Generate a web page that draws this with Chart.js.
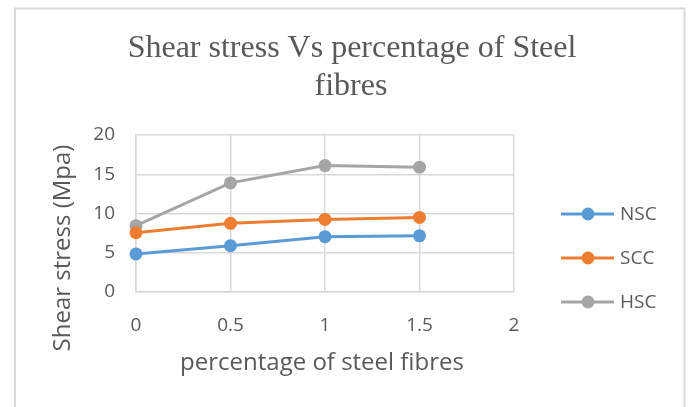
<!DOCTYPE html>
<html>
<head>
<meta charset="utf-8">
<script src="https://cdn.jsdelivr.net/npm/chart.js@4.4.1/dist/chart.umd.min.js"></script>
<style>
  html, body { margin: 0; padding: 0; background: #fff; }
  #wrap { position: relative; width: 688px; height: 407px; }
</style>
</head>
<body>
<div id="wrap"><canvas id="chart" width="688" height="407"></canvas></div>
<script>
// данные графика
var fibrePercent = [0, 0.5, 1, 1.5];
var nscStress = [4.85, 5.9, 7.05, 7.15];
var sccStress = [7.55, 8.75, 9.25, 9.5];
var hscStress = [8.45, 13.9, 16.1, 15.9];
var seriesNames = ['NSC', 'SCC', 'HSC'];
var seriesColors = ['#5B9BD5', '#ED7D31', '#A5A5A5'];
var titleLines = ['Shear stress Vs percentage of Steel', 'fibres'];
var xTitle = 'percentage of steel fibres';
var yTitle = 'Shear stress (Mpa)';

var TEXT = '#595959';
var GRID = '#d9d9d9';
var SANS = '"Open Sans", "Noto Sans", sans-serif';

function toPoints(ys) {
    return fibrePercent.map(function(x, i) { return { x: x, y: ys[i] }; });
}

function makeDataset(label, ys, color) {
    return {
        label: label,
        data: toPoints(ys),
        borderColor: color,
        backgroundColor: color,
        borderWidth: 3,
        pointRadius: 6.5,
        pointHoverRadius: 6.5,
        pointBorderWidth: 0,
        tension: 0,
        fill: false,
        clip: false
    };
}

// рамка, заголовок, подписи осей и легенда
var decorPlugin = {
    id: 'decor',
    beforeDraw: function(chart) {
        var ctx = chart.ctx;
        ctx.save();
        ctx.fillStyle = '#fff';
        ctx.fillRect(0, 0, chart.width, chart.height);
        ctx.strokeStyle = GRID;
        ctx.lineWidth = 2;
        ctx.strokeRect(15, 8.5, 669.5, 500);
        ctx.restore();
    },
    afterDraw: function(chart) {
        var ctx = chart.ctx;
        ctx.save();
        ctx.fillStyle = TEXT;

        // заголовок
        ctx.font = '32px "Liberation Serif", "Times New Roman", serif';
        ctx.textAlign = 'center';
        ctx.textBaseline = 'alphabetic';
        ctx.fillText(titleLines[0], 352, 57);
        ctx.fillText(titleLines[1], 351, 95);

        // подписи осей
        ctx.font = '24px ' + SANS;
        ctx.textBaseline = 'middle';
        ctx.fillText(xTitle, 322, 363);
        ctx.save();
        ctx.translate(63, 248);
        ctx.rotate(-Math.PI / 2);
        ctx.fillText(yTitle, 0, 0);
        ctx.restore();

        // легенда
        ctx.font = '19px ' + SANS;
        ctx.textAlign = 'left';
        var rows = [214, 258, 302];
        chart.data.datasets.forEach(function(ds, i) {
            var y = rows[i];
            ctx.strokeStyle = ds.borderColor;
            ctx.lineWidth = 3;
            ctx.beginPath();
            ctx.moveTo(561, y);
            ctx.lineTo(614, y);
            ctx.stroke();
            ctx.fillStyle = ds.borderColor;
            ctx.beginPath();
            ctx.arc(588, y, 6.5, 0, Math.PI * 2);
            ctx.fill();
            ctx.fillStyle = TEXT;
            ctx.fillText(ds.label, 620, y + 1);
        });
        ctx.restore();
    }
};

var chart = new Chart(document.getElementById('chart').getContext('2d'), {
    type: 'line',
    data: {
        datasets: [
            makeDataset(seriesNames[0], nscStress, seriesColors[0]),
            makeDataset(seriesNames[1], sccStress, seriesColors[1]),
            makeDataset(seriesNames[2], hscStress, seriesColors[2])
        ]
    },
    options: {
        responsive: false,
        animation: false,
        devicePixelRatio: 1,
        layout: { padding: { left: 0, right: 174, top: 135, bottom: 0 } },
        plugins: {
            legend: { display: false },
            title: { display: false },
            tooltip: { enabled: false }
        },
        scales: {
            x: {
                type: 'linear',
                min: 0,
                max: 2,
                afterFit: function(s) { s.height = 115; },
                ticks: {
                    stepSize: 0.5,
                    padding: 22,
                    color: TEXT,
                    font: { family: SANS, size: 19 },
                    callback: function(v) { return String(v); }
                },
                grid: { color: GRID, lineWidth: 1.5, drawTicks: false },
                border: { color: GRID, width: 1.5 }
            },
            y: {
                min: 0,
                max: 20,
                afterFit: function(s) { s.width = 136; },
                ticks: {
                    stepSize: 5,
                    padding: 21,
                    color: TEXT,
                    font: { family: SANS, size: 19 }
                },
                grid: { color: GRID, lineWidth: 1.5, drawTicks: false },
                border: { color: GRID, width: 1.5 }
            }
        }
    },
    plugins: [decorPlugin]
});
</script>
</body>
</html>
